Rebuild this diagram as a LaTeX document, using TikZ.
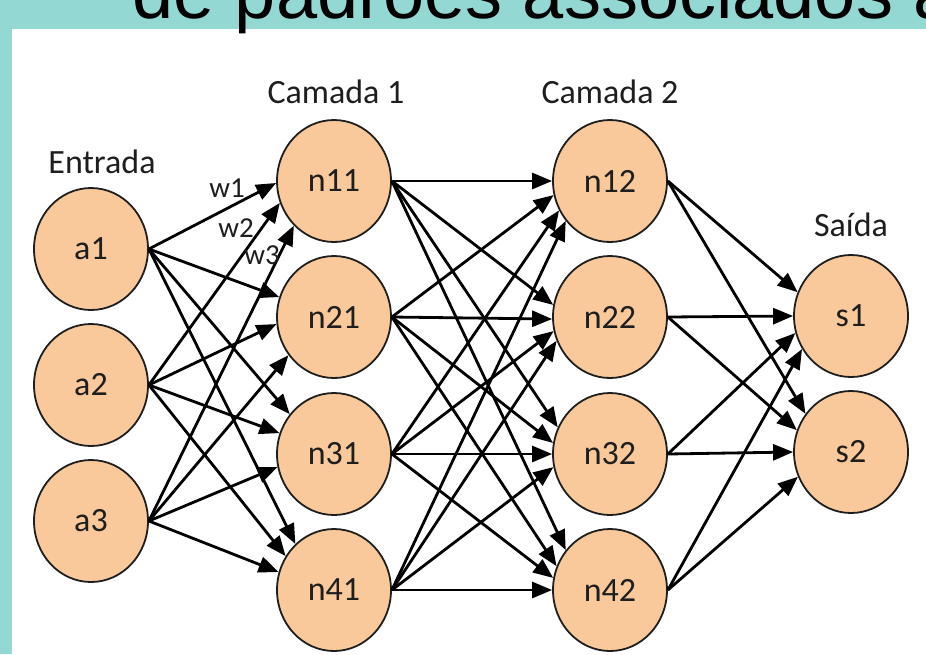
\documentclass[tikz,border=0pt]{standalone}
\usepackage{fontspec}
\setmainfont{Carlito}
\newfontfamily\titlefont{Liberation Sans}
\usetikzlibrary{arrows.meta,shapes.geometric}
\definecolor{bgteal}{RGB}{147,216,210}
\definecolor{nodefill}{RGB}{249,201,156}
\definecolor{inkgray}{RGB}{30,30,30}

\begin{document}
\begin{tikzpicture}[x=1pt,y=-1pt,
  neuron/.style={ellipse,draw=inkgray,line width=1.8pt,fill=nodefill,
    minimum width=114pt,minimum height=122pt,inner sep=0pt,
    text=inkgray,font=\fontsize{34}{34}\selectfont},
  layertitle/.style={text=inkgray,font=\fontsize{34}{34}\selectfont},
  weight/.style={text=inkgray,inner sep=0pt,font=\fontsize{29}{29}\selectfont},
  conn/.style={-{Triangle[length=20pt,width=16pt]},line width=2.8pt,black}]
  \clip (0,0) rectangle (926,654);
  \fill[bgteal] (0,0) rectangle (926,654);
  \fill[white] (12,29) rectangle (926,654);
  \node[anchor=base west,inner sep=0pt,font=\titlefont\fontsize{74}{74}\selectfont] (titulo) at (132,18) {de padrões associados a};

  % camadas
  \foreach \i/\y in {1/249,2/385,3/521}{%
    \node[neuron] (a\i) at (91,\y) {a\i};
  }
  \foreach \i/\y in {1/181,2/317,3/454,4/590}{%
    \node[neuron] (n\i1) at (334,\y) {n\i1};
    \node[neuron] (n\i2) at (610,\y) {n\i2};
  }
  \node[neuron] (s1) at (851,316) {s1};
  \node[neuron] (s2) at (851,452) {s2};

  \node[layertitle] (entrada) at (102,162) {Entrada};
  \node[layertitle] (camada1) at (336,92) {Camada 1};
  \node[layertitle] (camada2) at (610,92) {Camada 2};
  \node[layertitle] (saida) at (851,225) {Saída};

  % ligacoes
  \foreach \s/\t/\a in {a1/n11/182,a2/n11/202,a3/n11/228,
                        a1/n21/160,a2/n21/187,a3/n21/220,
                        a1/n31/138,a2/n31/159,a3/n31/193,
                        a1/n41/130,a2/n41/145,a3/n41/162}{%
    \draw[conn] (\s.east) -- (\t.\a);
  }
  \foreach \s/\t/\a in {n11/n12/180,n21/n12/194,n31/n12/210,n41/n12/222,
                        n11/n22/168,n21/n22/182,n31/n22/194,n41/n22/204,
                        n11/n32/153,n21/n32/169,n31/n32/180,n41/n32/193,
                        n11/n42/138,n21/n42/156,n31/n42/168,n41/n42/180}{%
    \draw[conn] (\s.east) -- (\t.\a);
  }
  \foreach \s/\t/\a in {n12/s1/156,n22/s1/180,n32/s1/197,n42/s1/214,
                        n12/s2/140,n22/s2/158,n32/s2/180,n42/s2/205}{%
    \draw[conn] (\s.east) -- (\t.\a);
  }

  \node[weight] (w1) at (227,188) {w1};
  \node[weight] (w2) at (236,228) {w2};
  \node[weight] (w3) at (262,255) {w3};
\end{tikzpicture}
\end{document}
